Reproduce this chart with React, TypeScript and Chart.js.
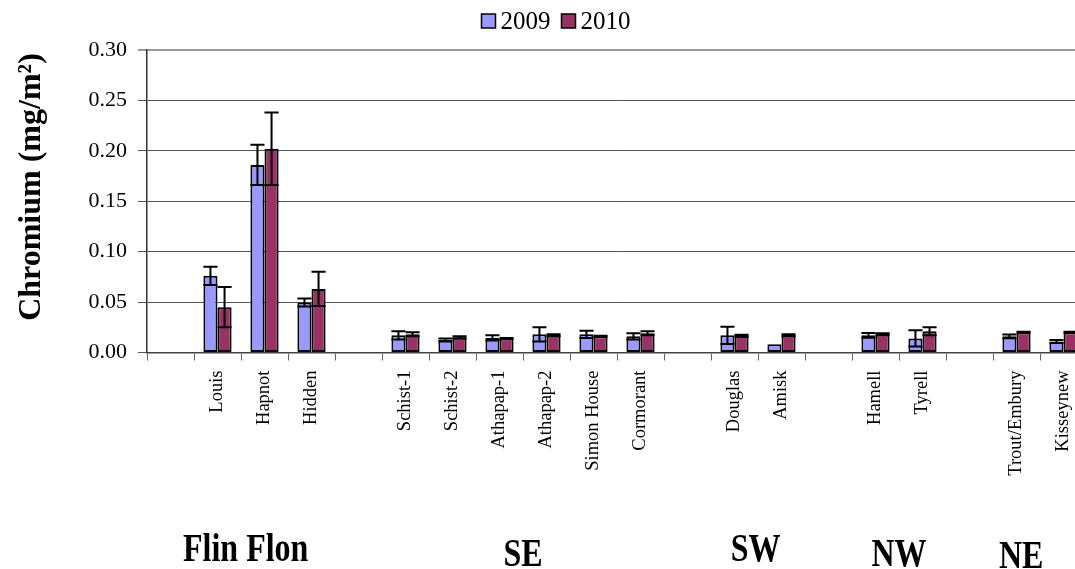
import React, { useEffect, useRef } from 'react';
import { Chart, registerables } from 'chart.js';

Chart.register(...registerables);

const categories = ['', 'Louis', 'Hapnot', 'Hidden', '', 'Schist-1', 'Schist-2', 'Athapap-1', 'Athapap-2', 'Simon House', 'Cormorant', '', 'Douglas', 'Amisk', '', 'Hamell', 'Tyrell', '', 'Trout/Embury', 'Kisseynew'];

const series2009 = [null, 0.076, 0.186, 0.0495, null, 0.017, 0.0125, 0.0145, 0.018, 0.018, 0.016, null, 0.017, 0.0082, null, 0.017, 0.014, null, 0.016, 0.011];
const errors2009 = [null, 0.009, 0.020, 0.004, null, 0.004, 0.0015, 0.0025, 0.007, 0.0035, 0.003, null, 0.0085, 0, null, 0.0023, 0.008, null, 0.0018, 0.0015];

const series2010 = [null, 0.045, 0.202, 0.063, null, 0.018, 0.015, 0.014, 0.017, 0.016, 0.019, null, 0.0165, 0.017, null, 0.018, 0.021, null, 0.020, 0.020];
const errors2010 = [null, 0.020, 0.036, 0.017, null, 0.002, 0.001, 0.0005, 0.001, 0.0005, 0.002, null, 0.001, 0.001, null, 0.001, 0.004, null, 0.0005, 0.0005];

const seriesLabels = ['2009', '2010'];
const seriesColors = ['#9999FF', '#993366'];

const groupNames = ['Flin Flon', 'SE', 'SW', 'NW', 'NE'];
const groupCenters = [1.6, 7.5, 12.45, 15.5, 18.1];
const groupBaselines = [561, 566, 561, 566, 568];

const yMin = 0;
const yMax = 0.3;
const yStep = 0.05;
const yTitle = 'Chromium (mg/m²)';

const SERIF = '"Liberation Serif", "Times New Roman", serif';

export default function App() {
  const ref = useRef<HTMLCanvasElement | null>(null);

  useEffect(() => {
    document.body.style.margin = '0';
    const canvas = ref.current;
    if (!canvas) return;
    const errs = [errors2009, errors2010];

    const errorBars = {
      id: 'errorBars',
      afterDatasetsDraw(chart: any) {
        const ctx = chart.ctx;
        const y = chart.scales.y;
        ctx.save();
        ctx.strokeStyle = '#000';
        ctx.lineWidth = 2;
        chart.data.datasets.forEach((ds: any, di: number) => {
          const meta = chart.getDatasetMeta(di);
          meta.data.forEach((el: any, i: number) => {
            const v = ds.data[i];
            const e = errs[di][i];
            if (v == null || e == null || e === 0) return;
            const x = el.x;
            const hw = el.width / 2;
            const yt = y.getPixelForValue(v + e);
            const yb = y.getPixelForValue(v - e);
            ctx.beginPath();
            ctx.moveTo(x, yt);
            ctx.lineTo(x, yb);
            ctx.moveTo(x - hw, yt);
            ctx.lineTo(x + hw, yt);
            ctx.moveTo(x - hw, yb);
            ctx.lineTo(x + hw, yb);
            ctx.stroke();
          });
        });
        ctx.restore();
      },
    };

    const extras = {
      id: 'extras',
      afterDraw(chart: any) {
        const ctx = chart.ctx;
        ctx.save();
        // legend
        ctx.font = `25px ${SERIF}`;
        ctx.textBaseline = 'middle';
        ctx.textAlign = 'left';
        const box = 14, gap = 5, itemGap = 11;
        const widths = seriesLabels.map((l) => ctx.measureText(l).width);
        const total = widths.reduce((a, w) => a + box + gap + w, 0) + itemGap * (seriesLabels.length - 1);
        let lx = chart.width / 2 - total / 2;
        const ly = 21;
        seriesLabels.forEach((l, i) => {
          ctx.fillStyle = seriesColors[i];
          ctx.fillRect(lx, ly - box / 2, box, box);
          ctx.strokeStyle = '#000';
          ctx.lineWidth = 1.5;
          ctx.strokeRect(lx, ly - box / 2, box, box);
          ctx.fillStyle = '#000';
          ctx.fillText(l, lx + box + gap, ly + 1);
          lx += box + gap + widths[i] + itemGap;
        });
        // y title
        ctx.save();
        ctx.translate(32, 187);
        ctx.rotate(-Math.PI / 2);
        ctx.font = `bold 32px ${SERIF}`;
        ctx.textAlign = 'center';
        ctx.textBaseline = 'middle';
        ctx.fillStyle = '#000';
        ctx.fillText(yTitle, 0, 0);
        ctx.restore();
        // group labels
        const xs = chart.scales.x;
        ctx.font = `bold 32px ${SERIF}`;
        ctx.textAlign = 'center';
        ctx.textBaseline = 'alphabetic';
        ctx.fillStyle = '#000';
        groupNames.forEach((g, i) => {
          ctx.save();
          ctx.translate(xs.getPixelForValue(groupCenters[i]), groupBaselines[i]);
          ctx.scale(1, 1.22);
          ctx.fillText(g, 0, 0);
          ctx.restore();
        });
        ctx.restore();
      },
    };

    const chart = new Chart(canvas, {
      type: 'bar',
      data: {
        labels: categories,
        datasets: [
          {
            label: seriesLabels[0],
            data: series2009 as any,
            backgroundColor: seriesColors[0],
            borderColor: '#000',
            borderWidth: 2,
            borderSkipped: false,
            categoryPercentage: 0.6,
            barPercentage: 1.0,
          },
          {
            label: seriesLabels[1],
            data: series2010 as any,
            backgroundColor: seriesColors[1],
            borderColor: '#000',
            borderWidth: 2,
            borderSkipped: false,
            categoryPercentage: 0.6,
            barPercentage: 1.0,
          },
        ],
      },
      options: {
        animation: false,
        responsive: false,
        maintainAspectRatio: false,
        layout: { padding: { top: 50, right: 25, left: 0, bottom: 0 } },
        plugins: {
          legend: { display: false },
          tooltip: { enabled: false },
          title: { display: false },
        },
        scales: {
          x: {
            afterFit: (s: any) => {
              s.height = 216.5;
            },
            grid: {
              display: true,
              drawOnChartArea: false,
              drawTicks: true,
              tickLength: 8,
              color: '#666',
              lineWidth: 1,
              offset: true,
            },
            border: { display: true, color: '#444', width: 1.5 },
            ticks: {
              autoSkip: false,
              maxRotation: 90,
              minRotation: 90,
              padding: 10,
              color: '#000',
              font: { family: SERIF, size: 18.5 },
            },
          },
          y: {
            min: yMin,
            max: yMax,
            afterFit: (s: any) => {
              s.width = 147;
            },
            grid: {
              color: (c: any) => (c.tick && Math.abs(c.tick.value - yMax) < 1e-9 ? '#999' : '#555'),
              lineWidth: (c: any) => (c.tick && Math.abs(c.tick.value - yMax) < 1e-9 ? 2 : 1),
              tickLength: 9,
              drawTicks: true,
            },
            border: { display: true, color: '#333', width: 1.5 },
            ticks: {
              stepSize: yStep,
              padding: 11,
              color: '#000',
              font: { family: SERIF, size: 22 },
              callback: (v: any) => Number(v).toFixed(2),
            },
          },
        },
      },
      plugins: [errorBars, extras],
    });

    return () => chart.destroy();
  }, []);

  return (
    <div style={{ width: 1075, height: 569, overflow: 'hidden', position: 'relative', background: '#fff' }}>
      <canvas ref={ref} width={1112} height={569} style={{ width: 1112, height: 569, display: 'block' }} />
    </div>
  );
}
